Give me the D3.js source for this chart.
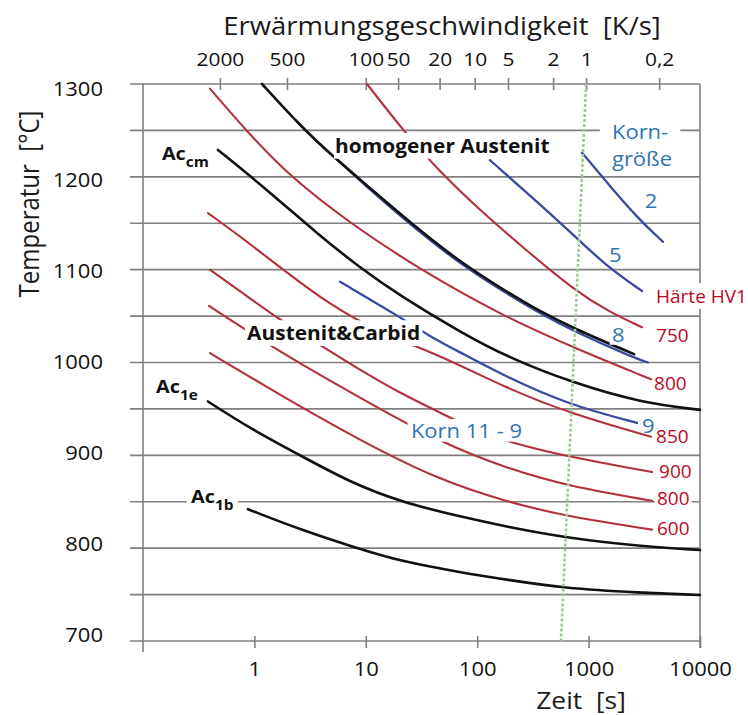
<!DOCTYPE html>
<html><head><meta charset="utf-8">
<script src="https://cdn.jsdelivr.net/npm/d3@7"></script>
<style>
html,body{margin:0;padding:0;background:#fff;}
svg{display:block;font-family:"Open Sans",sans-serif;}
</style></head><body>
<svg id="chart" width="748" height="715"></svg>
<script>
// ---------------- data ----------------
const timeTicks = [1, 10, 100, 1000, 10000];
const tempTicks = [700, 800, 900, 1000, 1100, 1200, 1300];
const gridTemps = [700, 750, 800, 850, 900, 950, 1000, 1050, 1100, 1150, 1200, 1250, 1300];
const rateLabels = ["2000", "500", "100", "50", "20", "10", "5", "2", "1", "0,2"];
const rateTickTimes = [0.49, 1.96, 10, 19.5, 46, 95, 189, 480, 950, 4300];

// black phase boundaries  [time s, temperature °C]
const homAustenit = [[1.17,1300],[2.57,1255],[5.29,1220],[10.9,1188],[24.9,1151],[70.1,1108],[185,1076],[366,1055],[724,1037],[2555,1009]];
const acCm = [[0.471,1229],[1.30,1186],[3.65,1139],[8.87,1102],[20.3,1072],[70.1,1033],[185,1006],[724,978],[2894,957],[10000,949]];
const ac1e = [[0.383,958],[0.913,929],[2.57,900],[7.22,871],[20.3,850],[70.1,834],[185,823],[640,811],[2894,802],[10000,798]];
const ac1b = [[0.876,842],[2.57,820],[8.34,800],[20.3,786],[70.1,774],[185,766],[589,757],[2894,752],[10000,749.5]];

// red hardness curves (HV1)
const hv750  = [[10.25,1300],[21.6,1250],[46.4,1205],[106,1164],[263,1123],[740,1078],[1556,1054],[3016,1038]];
const hv800a = [[0.399,1295],[0.84,1250],[2.09,1200],[7.22,1150],[30.7,1100],[170,1050],[837,1013],[3632,982]];
const hv850  = [[0.383,1161],[0.823,1132],[1.81,1100],[4.77,1062],[13.4,1032],[46.4,1008],[185,972],[724,944],[3632,920]];
const hv900  = [[0.399,1100],[0.823,1073],[1.60,1048],[3.88,1019],[8.87,992],[20.3,967],[46.4,946],[106,925],[210,913],[681,898],[3708,882]];
const hv800b = [[0.391,1061],[1.70,1011],[8.87,962],[46.4,914],[185,886],[640,867],[3708,851]];
const hv600  = [[0.399,1010],[1.70,965],[8.87,916],[46.4,873],[185,850],[640,834],[3708,820]];

// blue grain size curves
const korn2 = [[873,1226],[1656,1186],[2894,1153],[4656,1130]];
const korn5 = [[130,1218],[298,1180],[681,1141],[1404,1105],[3016,1077]];
const korn8 = [[5.3,1221],[10.9,1186],[24.9,1149],[70.1,1106],[185,1074],[366,1053],[724,1034],[2555,1005],[3414,1000]];
const korn9 = [[5.87,1087],[20.3,1049],[37.7,1028],[70.1,1011],[185,984],[681,954],[2720,935]];

// 1 K/s heating line
const rate1 = [[950,1300],[565,700]];

// ---------------- drawing ----------------
const SX = 1.1;   // horizontal stretch of the lettering
const NB = "\u00a0";
const svg = d3.select("#chart");
const x = d3.scaleLog().domain([0.1, 10000]).range([143, 700]);
const y = d3.scaleLinear().domain([700, 1300]).range([641, 84]);
const yLab = d3.scaleLinear().domain([700, 1300]).range([635, 89]);
const GRID = "#808080";

// grid
svg.append("g").selectAll("line").data(gridTemps).join("line")
  .attr("x1", x(0.1) - 13).attr("x2", x(10000))
  .attr("y1", d => y(d)).attr("y2", d => y(d))
  .attr("stroke", GRID).attr("stroke-width", 1.6);
svg.append("line").attr("x1", x(0.1)).attr("x2", x(0.1))
  .attr("y1", y(1300)).attr("y2", y(700) + 11).attr("stroke", GRID).attr("stroke-width", 1.6);
svg.append("line").attr("x1", x(10000)).attr("x2", x(10000))
  .attr("y1", y(1300)).attr("y2", y(700) + 7).attr("stroke", GRID).attr("stroke-width", 1.6);

// top axis (heating rate)
const gt = svg.append("g").attr("transform", `translate(0,${y(1300) + 6})`)
  .call(d3.axisTop(x).tickValues(rateTickTimes).tickFormat((d, i) => rateLabels[i]).tickSize(12).tickPadding(12));
gt.select(".domain").remove();
gt.selectAll("line").attr("stroke", GRID).attr("stroke-width", 1.6);
gt.selectAll("text").attr("font-size", 19).attr("fill", "#111").attr("font-family", "Open Sans")
  .attr("transform", `scale(${SX},1)`);

// bottom axis (time)
const gb = svg.append("g").attr("transform", `translate(0,${y(700) - 5})`)
  .call(d3.axisBottom(x).tickValues(timeTicks).tickFormat(d3.format("d")).tickSize(12).tickPadding(14));
gb.select(".domain").remove();
gb.selectAll("line").attr("stroke", GRID).attr("stroke-width", 1.6);
gb.selectAll("text").attr("font-size", 20).attr("fill", "#111").attr("font-family", "Open Sans")
  .attr("transform", `scale(${SX},1)`);

// y tick labels
svg.append("g").selectAll("g").data(tempTicks).join("g")
  .attr("transform", d => `translate(103,${yLab(d)}) scale(${SX},1)`)
  .append("text").attr("text-anchor", "end").attr("dy", "0.36em")
  .attr("font-size", 20).attr("fill", "#111").text(d => d);

// curves
const line = d3.line().x(d => x(d[0])).y(d => y(d[1])).curve(d3.curveBasis);
const curves = svg.append("g").attr("fill", "none").attr("stroke-linecap", "round");
[hv750, hv800a, hv850, hv900, hv800b, hv600].forEach(c =>
  curves.append("path").attr("d", line(c)).attr("stroke", "#b3303d").attr("stroke-width", 2.1));
[korn2, korn5, korn8, korn9].forEach(c =>
  curves.append("path").attr("d", line(c)).attr("stroke", "#3a4a9e").attr("stroke-width", 2.3));
[homAustenit, acCm, ac1e, ac1b].forEach(c =>
  curves.append("path").attr("d", line(c)).attr("stroke", "#111").attr("stroke-width", 2.6));

// 1 K/s line
svg.append("path").attr("d", d3.line().x(d => x(d[0])).y(d => y(d[1]))(rate1))
  .attr("fill", "none").attr("stroke", "#9ccb96").attr("stroke-width", 2.6).attr("stroke-dasharray", "3,2");

// annotations
function annot(tx, ty, parts, o) {
  const sx = o.sx == null ? SX : o.sx;
  const g = svg.append("g").attr("transform", `translate(${x(tx)},${y(ty)}) scale(${sx},1)`);
  const t = g.append("text").attr("fill", o.color).attr("font-size", o.size)
    .attr("font-weight", o.bold ? 700 : 400).attr("text-anchor", o.anchor || "start");
  parts.forEach(p => t.append("tspan").text(p.t).attr("font-size", p.size || null).attr("dy", p.dy || 0));
  if (o.bg) {
    const b = t.node().getBBox();
    const px = o.px == null ? 3 : o.px, py = o.py == null ? 2 : o.py;
    g.insert("rect", "text").attr("x", b.x - px).attr("y", b.y - py)
      .attr("width", b.width + 2 * px).attr("height", b.height + 2 * py).attr("fill", "#fff");
  }
}
const BLK = "#111", BLUE = "#2f74b5", RED = "#c0081e";
annot(5.3, 1225.7, [{t: "homogener Austenit"}], {color: BLK, size: 19, bold: true, bg: true, px: 1, py: 0});
annot(0.86, 1024, [{t: "Austenit&Carbid"}], {color: BLK, size: 19, bold: true, bg: true, px: 2, py: 0});
annot(0.148, 1218, [{t: "Ac"}, {t: "cm", size: 14, dy: 7}], {color: BLK, size: 18, bold: true, bg: true});
annot(0.131, 967, [{t: "Ac"}, {t: "1e", size: 14, dy: 7}], {color: BLK, size: 18, bold: true, bg: true});
annot(0.27, 848.6, [{t: "Ac"}, {t: "1b", size: 14, dy: 7}], {color: BLK, size: 18, bold: true, bg: true, px: 4});
annot(1620, 1241, [{t: "Korn-"}], {color: BLUE, size: 20, bg: true, px: 11, py: 1});
annot(1620, 1212, [{t: "größe"}], {color: BLUE, size: 20, bg: true, px: 3, py: 0});
annot(3200, 1166, [{t: "2"}], {color: BLUE, size: 20});
annot(1525, 1108, [{t: "5"}], {color: BLUE, size: 20});
annot(1620, 1022, [{t: "8"}], {color: BLUE, size: 20, bg: true, px: 2, py: -3});
annot(3016, 924, [{t: "9"}], {color: BLUE, size: 20});
annot(25.4, 918.7, [{t: "Korn 11 - 9"}], {color: BLUE, size: 20, bg: true, px: 3, py: -2});
annot(4030, 1064, [{t: "Härte HV1"}], {color: RED, size: 19, sx: 1, bg: true, px: 2, py: 0});
annot(4030, 1022, [{t: "750"}], {color: RED, size: 19, sx: 1});
annot(3870, 970, [{t: "800"}], {color: RED, size: 19, sx: 1});
annot(4030, 913, [{t: "850"}], {color: RED, size: 19, sx: 1});
annot(4290, 876, [{t: "900"}], {color: RED, size: 19, sx: 1});
annot(4110, 846.5, [{t: "800"}], {color: RED, size: 19, sx: 1, bg: true, px: 2, py: -4});
annot(4110, 814, [{t: "600"}], {color: RED, size: 19, sx: 1});

// axis titles
svg.append("g").attr("transform", `translate(442,35) scale(${SX},1)`)
  .append("text").attr("text-anchor", "middle").attr("font-size", 25).attr("fill", "#1a1a1a")
  .text("Erwärmungsgeschwindigkeit" + NB + NB + "[K/s]");
svg.append("g").attr("transform", `translate(581,709) scale(${SX},1)`)
  .append("text").attr("text-anchor", "middle").attr("font-size", 24).attr("fill", "#1a1a1a")
  .text("Zeit" + NB + NB + "[s]");
svg.append("g").attr("transform", `translate(39,204) rotate(-90) scale(1,${SX})`)
  .append("text").attr("text-anchor", "middle").attr("font-size", 24).attr("fill", "#1a1a1a")
  .text("Temperatur" + NB + NB + "[°C]");
</script>
</body></html>
